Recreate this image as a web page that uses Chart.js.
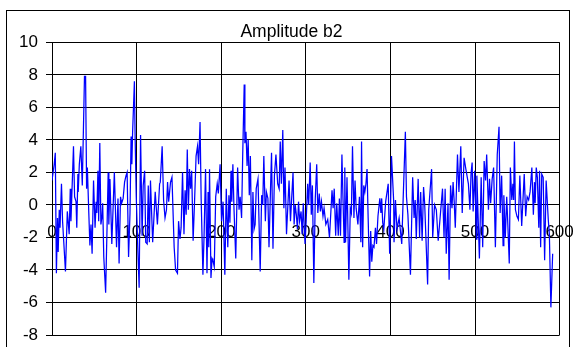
<!DOCTYPE html>
<html>
<head>
<meta charset="utf-8">
<script src="https://cdn.jsdelivr.net/npm/chart.js@4"></script>
<style>
  html, body { margin: 0; padding: 0; background: #fff; }
  #wrap { position: relative; width: 573px; height: 347px; overflow: hidden; }
  #frame { position: absolute; left: 6px; top: 10px; width: 562px; height: 360px; border: 1px solid #000; pointer-events: none; }
  canvas { position: absolute; left: 0; top: 0; }
</style>
</head>
<body>
<div id="wrap">
  <canvas id="grafico" width="573" height="347"></canvas>
  <div id="frame"></div>
</div>
<script>
const tituloGrafico = "Amplitude b2";

const amostraX = [
  0, 2.6, 3.9, 5.2, 6.5, 7.3, 8.6, 9.5, 11.2, 12.5, 15.9, 18.1, 20.3, 21.6, 22.4, 25.4, 26.7, 28.4, 29.3, 30.6,
  31.0, 32.3, 34.1, 35.8, 38.4, 39.7, 40.9, 41.8, 43.5, 44.8, 46.1, 47.4, 49.1, 50.9, 52.2, 53.0, 54.3, 55.2, 56.5, 57.8,
  59.1, 59.9, 61.2, 63.4, 65.1, 66.4, 67.2, 68.5, 70.7, 73.7, 76.3, 78.0, 79.3, 81.0, 82.3, 84.1, 85.8, 87.5, 88.8, 90.5,
  92.2, 93.5, 94.4, 95.3, 97.4, 98.3, 99.6, 101.3, 103.0, 104.7, 106.5, 107.8, 109.5, 110.8, 112.5, 113.8, 115.1, 116.4, 119.0, 122.0,
  124.6, 127.2, 128.0, 130.2, 131.9, 133.6, 135.3, 136.6, 137.9, 140.1, 141.8, 144.4, 146.1, 148.3, 149.6, 151.3, 152.6, 154.3, 156.0, 157.3,
  158.6, 159.9, 161.2, 162.5, 163.8, 165.1, 166.8, 168.5, 170.3, 172.0, 173.3, 175.0, 176.3, 178.4, 179.7, 181.5, 183.2, 184.5, 185.3, 186.2,
  187.9, 189.2, 190.1, 191.8, 193.5, 195.3, 196.6, 198.7, 200.4, 202.2, 204.3, 206.0, 207.8, 209.1, 210.3, 211.6, 212.5, 213.8, 215.1, 217.2,
  219.4, 221.1, 222.4, 224.1, 225.4, 227.2, 228.0, 229.3, 230.6, 231.9, 233.2, 234.5, 236.2, 237.5, 238.8, 240.1, 241.4, 243.5, 246.1, 247.8,
  249.1, 250.4, 252.2, 253.4, 255.2, 256.5, 258.2, 259.5, 261.2, 262.9, 264.7, 266.8, 268.5, 269.8, 271.1, 272.8, 274.1, 275.4, 277.2, 280.2,
  281.9, 283.2, 284.9, 286.2, 287.5, 288.8, 290.1, 291.4, 292.7, 294.4, 295.7, 297.0, 299.1, 300.4, 302.2, 303.4, 305.2, 306.5, 307.8, 309.5,
  311.2, 312.9, 314.2, 315.9, 317.2, 318.5, 320.3, 321.6, 323.7, 325.9, 328.0, 331.0, 332.3, 333.6, 335.3, 336.6, 338.4, 339.7, 341.0, 342.7,
  344.0, 345.3, 346.1, 347.0, 348.7, 350.9, 352.6, 353.9, 355.2, 356.9, 358.2, 359.5, 361.6, 363.4, 365.1, 365.9, 367.2, 368.5, 369.8, 371.1,
  372.4, 373.7, 375.4, 376.7, 378.0, 379.3, 380.6, 382.3, 383.6, 385.3, 387.5, 388.8, 389.7, 390.9, 392.2, 394.4, 397.4, 399.1, 401.3, 403.9,
  404.3, 406.0, 407.8, 410.3, 413.4, 415.1, 417.7, 419.0, 420.7, 423.7, 426.3, 428.0, 429.3, 430.6, 432.8, 434.5, 435.8, 437.5, 439.2, 440.5,
  444.0, 445.3, 448.7, 450.0, 452.2, 454.3, 456.5, 461.6, 463.4, 464.7, 466.0, 468.1, 469.4, 471.1, 472.8, 474.1, 475.4, 476.7, 479.3, 481.0,
  483.2, 484.9, 487.1, 489.2, 492.2, 494.0, 495.3, 496.6, 497.8, 499.6, 501.7, 502.2, 505.2, 507.3, 509.1, 510.8, 512.5, 513.8, 515.9, 517.2,
  518.5, 520.3, 522.0, 524.1, 526.3, 528.4, 529.7, 531.5, 533.2, 534.1, 535.8, 537.5, 538.8, 540.5, 541.8, 543.5, 544.8, 545.7, 546.6, 547.8,
  549.6, 551.3, 553.0, 555.2, 558.2, 559.9, 561.6, 563.4, 565.1, 567.2, 569.0, 570.3, 571.1, 572.4, 573.7, 575.4, 576.3, 577.6, 578.9, 580.6,
  582.3, 584.1, 584.9, 586.6, 587.9, 589.7, 591.8
];

// amplitude b2 em cada amostra
const amplitudeB2 = [
  1.5, 2.5, 3.2, -4.2, -0.8, -2.9, -0.3, -1.4, 1.3, -1.0, -4.1, -0.4, -1.8, 1.0, -1.0, 3.6, 0.5, 0.2, -1.4, 1.9,
  0.8, 2.5, 3.6, 1.2, 7.9, 7.9, 1.0, 2.3, -0.5, -2.5, -1.2, -3.0, 1.5, -1.4, 0.2, -0.5, 2.1, -1.0, 3.8, -1.2,
  -0.7, 0.1, -3.2, -5.4, -1.3, 2.0, -1.2, 1.6, -2.4, 2.0, -2.6, 0.4, -3.6, 0.5, 0.1, 0.4, 1.4, 1.8, 2.0, -3.2,
  -0.5, 4.2, 2.5, 4.5, 7.6, 4.0, 0.5, -2.5, -5.1, 4.3, -1.9, 1.2, 2.1, -2.3, -2.4, 1.2, -2.3, 1.5, -2.3, 0.8,
  -1.2, 1.3, 1.4, 3.6, 0.3, -0.8, -0.3, 1.4, 0.2, 1.4, 1.7, -2.6, -4.0, -4.2, -1.0, -2.1, -1.4, 2.0, -1.8, 0.9,
  -0.6, 3.4, -0.3, 2.2, 1.0, 2.1, -2.2, 0.2, 3.0, 3.6, 2.5, 5.1, 0.4, -4.3, -2.0, 2.2, -4.2, 0.8, -2.6, 2.2,
  -4.5, -3.3, -3.4, -3.8, 0.5, 1.3, 0.7, 2.5, -1.0, 0.2, -4.3, 1.0, -2.6, 0.6, -1.1, 2.1, 0.2, 2.5, -0.2, -3.3,
  2.3, -0.3, 0.5, -0.8, 3.0, 7.4, 3.8, 4.5, 2.4, 4.0, 0.6, 3.0, -3.4, 0.8, -1.5, -1.2, 1.0, 1.6, -4.1, 0.6,
  0.0, 3.0, -1.0, 0.8, 0.4, -2.6, 0.8, 3.2, -2.7, 1.8, 3.1, 1.3, 1.0, 3.9, 1.3, 4.6, -0.2, 2.3, -1.8, 1.5,
  -1.0, 0.3, 2.0, -1.2, 0.0, -0.6, -1.5, 0.2, -1.0, -0.4, -1.8, 0.1, -2.4, -1.0, 1.3, 0.0, 2.6, -0.6, 1.2, -4.8,
  0.4, 2.5, -0.5, 0.7, -0.4, 0.2, -0.7, -0.2, -1.2, -0.9, -2.0, 0.9, -0.2, 1.0, -1.9, 0.1, -1.9, 0.4, -1.9, 3.1,
  0.3, -2.3, 2.3, -2.3, 1.7, -4.6, -0.2, -0.5, 3.6, -0.8, 1.5, -0.2, -1.2, 0.5, -2.3, 3.9, -2.6, 1.2, 0.8, 1.3,
  2.2, -0.8, -4.4, -1.6, -3.5, -2.5, -2.6, -1.4, -2.4, -0.7, 0.4, -0.5, 0.4, -1.1, -1.5, 0.2, 1.3, -3.0, 3.0, 0.2,
  -2.3, 0.3, -1.5, -0.8, -2.4, 0.4, 4.5, 0.5, -0.6, -4.3, 1.7, -0.8, 0.3, -2.1, 1.6, -2.0, 0.8, -2.2, 1.1, 0.1,
  -4.9, -0.3, 2.2, -2.0, 0.0, -0.3, -2.2, 1.0, -2.0, 1.0, -3.0, 0.1, -4.6, 1.2, -0.2, 1.4, 0.2, -1.4, 3.1, 0.8,
  3.6, -0.5, 2.9, 2.2, 1.3, -0.3, 1.9, 2.6, -0.4, 2.1, -2.1, 1.8, -3.3, 1.7, -2.6, 2.7, 1.5, 3.1, -0.3, 1.6,
  0.1, 1.6, 2.3, -2.6, 3.1, 4.8, -0.5, 1.8, -2.5, 0.6, -2.0, 0.5, -1.2, -3.6, 2.3, 0.3, 1.3, 0.3, 3.9, -0.3,
  -0.7, -0.9, 1.8, -1.3, 1.9, -0.7, 0.5, 0.3, 0.8, 2.3, -0.6, 1.4, 0.1, 2.3, 1.7, -1.4, 2.1, -2.6, 1.9, 1.7,
  -3.4, 1.5, 1.5, -0.9, -1.8, -6.3, -3.0
];

const limitesX = [0, 600];
const passoX = 100;
const limitesY = [-8, 10];
const passoY = 2;

const fonteEixo = { family: "'Liberation Sans', Arial, sans-serif", size: 17 };

const pluginTitulo = {
  id: "tituloFixo",
  afterDraw(chart) {
    const ctx = chart.ctx;
    ctx.save();
    ctx.font = "17.5px 'Liberation Sans', Arial, sans-serif";
    ctx.fillStyle = "#000";
    ctx.textAlign = "center";
    ctx.textBaseline = "alphabetic";
    ctx.fillText(tituloGrafico, 291.5, 37.3);
    ctx.restore();
  },
};

const pontos = amostraX.map((x, i) => ({ x, y: amplitudeB2[i] }));

new Chart(document.getElementById("grafico"), {
  type: "line",
  data: {
    datasets: [
      {
        data: pontos,
        borderColor: "#0000ff",
        borderWidth: 1.25,
        pointRadius: 0,
        tension: 0,
        fill: false,
      },
    ],
  },
  options: {
    responsive: false,
    animation: false,
    devicePixelRatio: 1,
    layout: { padding: { left: 6, right: 13.4, top: 42.3, bottom: 12 } },
    plugins: { legend: { display: false }, tooltip: { enabled: false } },
    scales: {
      x: {
        type: "linear",
        position: { y: 0 },
        min: limitesX[0],
        max: limitesX[1],
        afterFit(scale) {
          scale.height = 0;
          scale.paddingLeft = 0;
          scale.paddingRight = 0;
        },
        ticks: {
          stepSize: passoX,
          color: "#000",
          font: fonteEixo,
          padding: 17,
          maxRotation: 0,
          autoSkip: false,
        },
        grid: { color: "#000", lineWidth: 1, drawTicks: false },
        border: { color: "#000", width: 1 },
      },
      y: {
        type: "linear",
        position: "left",
        min: limitesY[0],
        max: limitesY[1],
        afterFit(scale) {
          scale.width = 46;
          scale.paddingTop = 0;
          scale.paddingBottom = 0;
        },
        ticks: {
          stepSize: passoY,
          color: "#000",
          font: fonteEixo,
          padding: 8,
        },
        grid: { color: "#000", lineWidth: 1, tickLength: 6, drawTicks: true },
        border: { color: "#000", width: 1 },
      },
    },
  },
  plugins: [pluginTitulo],
});
</script>
</body>
</html>
